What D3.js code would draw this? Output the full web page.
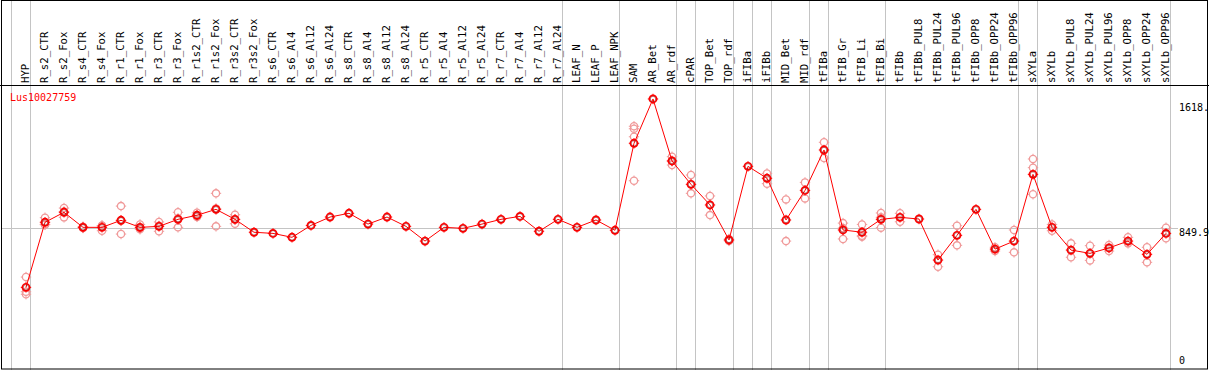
<!DOCTYPE html>
<html>
<head>
<meta charset="utf-8">
<script src="https://cdn.jsdelivr.net/npm/d3@7"></script>
<style>
body { margin: 0; background: #fff; }
text { font-family: "DejaVu Sans Mono", monospace; }
</style>
</head>
<body>
<div class="render"></div>
<script>
"use strict";

var width = 1209;
var height = 370;

var gene = "Lus10027759";

var categories = ["HYP", "R_s2_CTR", "R_s2_Fox", "R_s4_CTR", "R_s4_Fox", "R_r1_CTR", "R_r1_Fox",
   "R_r3_CTR", "R_r3_Fox", "R_r1s2_CTR", "R_r1s2_Fox", "R_r3s2_CTR", "R_r3s2_Fox", "R_s6_CTR",
   "R_s6_Al4", "R_s6_Al12", "R_s6_Al24", "R_s8_CTR", "R_s8_Al4", "R_s8_Al12", "R_s8_Al24",
   "R_r5_CTR", "R_r5_Al4", "R_r5_Al12", "R_r5_Al24", "R_r7_CTR", "R_r7_Al4", "R_r7_Al12", "R_r7_Al24",
   "LEAF_N", "LEAF_P", "LEAF_NPK", "SAM", "AR_Bet", "AR_rdf", "cPAR", "TOP_Bet", "TOP_rdf",
   "iFIBa", "iFIBb", "MID_Bet", "MID_rdf", "tFIBa", "tFIB_Gr", "tFIB_Li", "tFIB_Bi", "tFIBb",
   "tFIBb_PUL8", "tFIBb_PUL24", "tFIBb_PUL96", "tFIBb_OPP8", "tFIBb_OPP24", "tFIBb_OPP96",
   "sXYLa", "sXYLb", "sXYLb_PUL8", "sXYLb_PUL24", "sXYLb_PUL96", "sXYLb_OPP8", "sXYLb_OPP24", "sXYLb_OPP96"];

// mean expression per sample
var means = [487, 885, 946, 854, 854, 897, 854, 860, 903, 928, 964, 903, 824, 817,
   793, 866, 917, 940, 874, 917, 860,
   770, 854, 848, 874, 903, 921, 830, 903,
   854, 899, 836, 1368, 1639, 1260, 1117, 991, 777,
   1227, 1154, 899, 1080, 1327, 838, 824, 903, 915,
   905, 654, 805, 964, 721, 770,
   1178, 854, 715, 695, 728, 770, 689, 817];

// single replicates (empty where only one value)
var replicates = [[550, 460, 445], [913, 872, 870], [972, 915, 951], [850, 858, 854], [864, 833, 865],
   [984, 813, 894], [872, 848, 842], [887, 830, 863], [946, 854, 909], [943, 923, 918], [1062, 860, 970],
   [931, 876, 902], [], [], [], [], [], [], [], [], [], [], [], [], [], [], [], [], [], [], [], [],
   [1472, 1457, 1408, 1139], [], [1286, 1235, 1259], [1174, 1062], [1046, 929], [783, 771],
   [], [1184, 1121], [1025, 770], [1129, 1031], [1374, 1278], [880, 783, 850], [872, 797, 803],
   [942, 852, 915], [940, 888],
   [], [687, 613], [864, 744], [], [732, 709], [838, 701],
   [1272, 1219, 1056], [872, 833], [756, 671], [742, 652], [746, 709], [793, 756], [732, 640], [852, 787]];

// a gray separator is drawn after each of these samples
var groupEnds = ["HYP", "R_r7_Al24", "LEAF_NPK", "AR_rdf", "cPAR", "TOP_rdf", "iFIBa", "iFIBb",
   "MID_rdf", "tFIBa", "tFIB_Bi", "tFIBb_OPP96", "sXYLa", "sXYLb_OPP96"];

var yTicks = [0, 849.9, 1618.2];
var yTickLabels = ["0", "849.9", "1618."];

var svg = d3.select('.render').append('svg').attr('width', width).attr('height', height);

var x = d3.scalePoint().domain(categories).range([26, 1166]);
var y = d3.scaleLinear().domain([0, 1700]).range([367, 89]);
var half = x.step() / 2;

// separators
svg.append('line').attr('x1', x("HYP") - 14.5).attr('x2', x("HYP") - 14.5).attr('y1', 0).attr('y2', height)
   .style('stroke', '#c4c4c4');
svg.selectAll('.sep').data(groupEnds).enter().append('line').attr('class', 'sep')
   .attr('x1', function (d) { return x(d) + 4.5; })
   .attr('x2', function (d) { return x(d) + 4.5; })
   .attr('y1', 0).attr('y2', height)
   .style('stroke', '#c4c4c4');

// mean reference line
svg.append('line').attr('x1', 2).attr('x2', 1178)
   .attr('y1', Math.round(y(849.9)) + 0.5).attr('y2', Math.round(y(849.9)) + 0.5)
   .style('stroke', '#c4c4c4');

// header
svg.append('line').attr('x1', 0).attr('x2', width).attr('y1', 85.5).attr('y2', 85.5).style('stroke', '#000');
svg.selectAll('.lab').data(categories).enter().append('text').attr('class', 'lab')
   .attr('transform', function (d) { return 'translate(' + (x(d) - 1) + ',83) rotate(-90)'; })
   .attr('dy', '0.36em').style('font-size', '10.7px').text(function (d) { return d; });

svg.append('text').attr('x', 10).attr('y', 101).style('font-size', '10px').style('fill', '#ff0000').text(gene);

svg.selectAll('.ytick').data(yTicks).enter().append('text').attr('class', 'ytick')
   .attr('x', 1179)
   .attr('y', function (d) { return Math.min(y(d) + 1, 357); })
   .attr('dominant-baseline', 'hanging')
   .style('font-size', '10px')
   .text(function (d, i) { return yTickLabels[i]; });

function marker(g, cx, cy, color, w) {
   g.append('circle').attr('cx', cx).attr('cy', cy).attr('r', 3.6)
      .style('fill', 'none').style('stroke', color).style('stroke-width', w);
   [[0, -1], [0, 1], [-1, 0], [1, 0]].forEach(function (v) {
      g.append('line')
         .attr('x1', cx + v[0] * 3.6).attr('y1', cy + v[1] * 3.6)
         .attr('x2', cx + v[0] * 5.2).attr('y2', cy + v[1] * 5.2)
         .style('stroke', color).style('stroke-width', 1);
   });
}

// replicates
var repG = svg.append('g');
categories.forEach(function (c, i) {
   replicates[i].forEach(function (v) {
      marker(repG, x(c), y(v), '#f09a9a', 1.3);
   });
});

var line = d3.line().x(function (d, i) { return x(categories[i]); }).y(function (d) { return y(d); });
svg.append('path').datum(means).attr('d', line).style('fill', 'none').style('stroke', '#ff0000').style('stroke-width', 1);

var meanG = svg.append('g');
categories.forEach(function (c, i) {
   marker(meanG, x(c), y(means[i]), '#ff0000', 1.7);
   meanG.append('circle').attr('cx', x(c)).attr('cy', y(means[i])).attr('r', 2.7)
      .style('fill', 'none').style('stroke', '#700000').style('stroke-width', 0.6).style('opacity', 0.7);
});

// frame
svg.append('rect').attr('x', 1.5).attr('y', 0.5).attr('width', 1206).attr('height', 368.5)
   .style('fill', 'none').style('stroke', '#000');
</script>
</body>
</html>
